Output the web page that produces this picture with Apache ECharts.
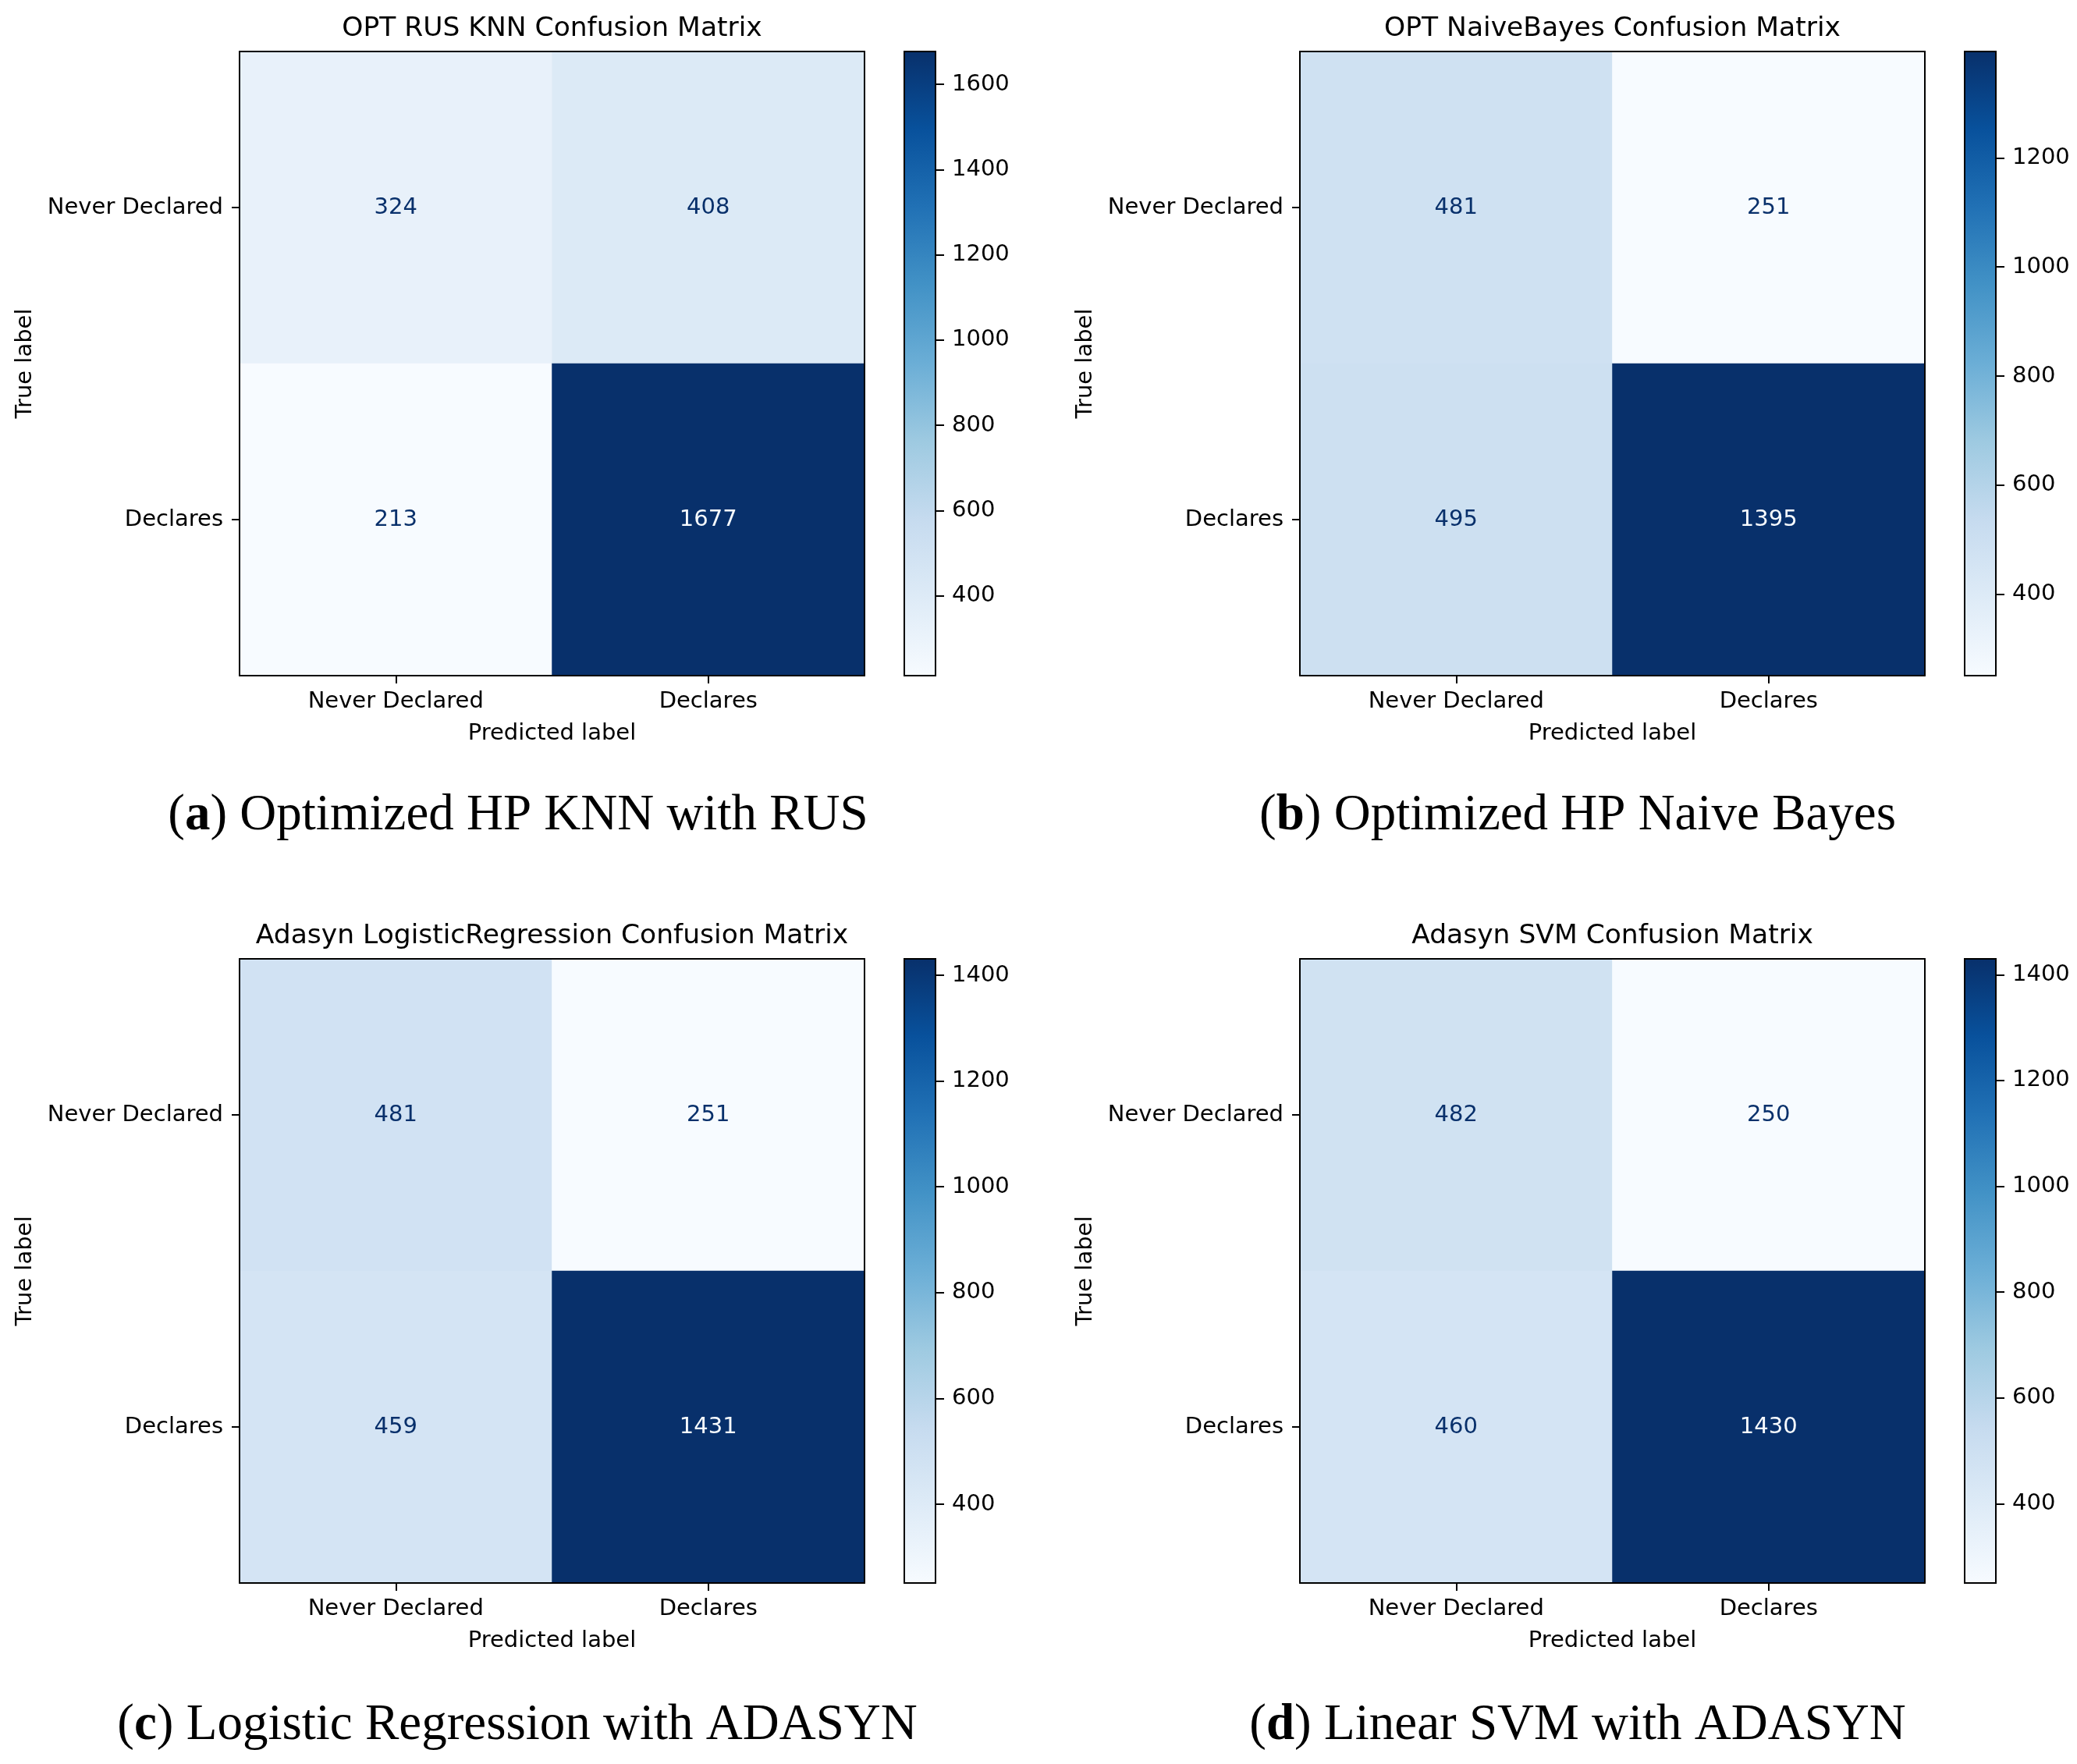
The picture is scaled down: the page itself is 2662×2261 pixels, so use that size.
<!DOCTYPE html>
<html>
<head>
<meta charset="utf-8">
<script src="https://cdn.jsdelivr.net/npm/echarts@6/dist/echarts.min.js"></script>
<style>
html,body{margin:0;padding:0;background:#fff;}
#chart{width:2662px;height:2261px;}
</style>
</head>
<body>
<div id="chart"></div>
<script>
// ---- data ----
const categories = ['Never Declared', 'Declares'];
// rows = true label, columns = predicted label
const knnRus = [[324, 408], [213, 1677]];
const naiveBayes = [[481, 251], [495, 1395]];
const logRegAdasyn = [[481, 251], [459, 1431]];
const svmAdasyn = [[482, 250], [460, 1430]];
const titles = ['OPT RUS KNN Confusion Matrix', 'OPT NaiveBayes Confusion Matrix',
  'Adasyn LogisticRegression Confusion Matrix', 'Adasyn SVM Confusion Matrix'];
const captionLetters = ['a', 'b', 'c', 'd'];
const captionTexts = ['Optimized HP KNN with RUS', 'Optimized HP Naive Bayes',
  'Logistic Regression with ADASYN', 'Linear SVM with ADASYN'];
const cbTicksA = [400, 600, 800, 1000, 1200, 1400, 1600];
const cbTicksB = [400, 600, 800, 1000, 1200];
const cbTicksC = [400, 600, 800, 1000, 1200, 1400];
const cbTicksD = [400, 600, 800, 1000, 1200, 1400];

// ---- style / layout ----
const blues = ['#f7fbff', '#deebf7', '#c6dbef', '#9ecae1', '#6baed6', '#4292c6', '#2171b5', '#08519c', '#08306b'];
const FONT = 'DejaVu Sans';
const matrices = [knnRus, naiveBayes, logRegAdasyn, svmAdasyn];
const cbTicks = [cbTicksA, cbTicksB, cbTicksC, cbTicksD];
const layout = [
  {left: 307, top: 66, capX: 664, capY: 1046},
  {left: 1666, top: 66, capX: 2022, capY: 1046},
  {left: 307, top: 1229, capX: 663, capY: 2212},
  {left: 1666, top: 1229, capX: 2022, capY: 2212}
];
const PW = 801, PH = 800, CB_OFF = 852, CB_W = 40;
const TICK_FS = 29, TITLE_FS = 34.5;
const lineBlack = {color: '#000', width: 2};

const grid = [], xAxis = [], yAxis = [], series = [], visualMap = [], title = [];
const gradient = {
  type: 'linear', x: 0, y: 0, x2: 0, y2: 1,
  colorStops: blues.slice().reverse().map((c, i) => ({offset: i / (blues.length - 1), color: c}))
};

matrices.forEach((m, p) => {
  const L = layout[p];
  const flat = m.flat();
  const vmin = Math.min(...flat), vmax = Math.max(...flat);
  const thresh = (vmin + vmax) / 2;
  const gHeat = grid.length;
  grid.push({left: L.left, top: L.top, width: PW, height: PH});
  const gCb = grid.length;
  grid.push({left: L.left + CB_OFF, top: L.top, width: CB_W, height: PH, show: true,
    backgroundColor: gradient, borderColor: '#000', borderWidth: 2});

  const xb = xAxis.length;
  xAxis.push({type: 'category', gridIndex: gHeat, data: categories, position: 'bottom', z: 5,
    axisLine: {show: true, lineStyle: lineBlack},
    axisTick: {show: true, alignWithLabel: true, length: 10, lineStyle: lineBlack},
    axisLabel: {show: true, interval: 0, fontSize: TICK_FS, lineHeight: TICK_FS, color: '#000', margin: 19, fontFamily: FONT},
    name: 'Predicted label', nameLocation: 'middle', nameGap: 60,
    nameTextStyle: {fontSize: TICK_FS, lineHeight: TICK_FS, color: '#000', fontFamily: FONT},
    splitLine: {show: false}});
  xAxis.push({type: 'category', gridIndex: gHeat, data: categories, position: 'top', z: 5,
    axisLine: {show: true, lineStyle: lineBlack}, axisTick: {show: false}, axisLabel: {show: false},
    name: titles[p], nameLocation: 'middle', nameGap: 11,
    nameTextStyle: {fontSize: TITLE_FS, lineHeight: 35, color: '#000', fontFamily: FONT},
    splitLine: {show: false}});
  xAxis.push({type: 'value', gridIndex: gCb, show: false, min: 0, max: 1});

  const yl = yAxis.length;
  yAxis.push({type: 'category', gridIndex: gHeat, data: categories, position: 'left', inverse: true, z: 5,
    axisLine: {show: true, lineStyle: lineBlack},
    axisTick: {show: true, alignWithLabel: true, length: 10, lineStyle: lineBlack},
    axisLabel: {show: true, interval: 0, fontSize: TICK_FS, color: '#000', margin: 21, fontFamily: FONT},
    name: 'True label', nameLocation: 'middle', nameGap: 260,
    nameTextStyle: {fontSize: TICK_FS, lineHeight: TICK_FS, color: '#000', fontFamily: FONT},
    splitLine: {show: false}});
  yAxis.push({type: 'category', gridIndex: gHeat, data: categories, position: 'right', inverse: true, z: 5,
    axisLine: {show: true, lineStyle: lineBlack}, axisTick: {show: false}, axisLabel: {show: false},
    splitLine: {show: false}});
  yAxis.push({type: 'value', gridIndex: gCb, position: 'right', min: vmin, max: vmax, z: 5,
    axisLine: {show: false, onZero: false},
    axisTick: {show: true, length: 11, customValues: cbTicks[p], lineStyle: lineBlack},
    axisLabel: {show: true, customValues: cbTicks[p], fontSize: TICK_FS, color: '#000', margin: 21, fontFamily: FONT,
      formatter: (v) => String(v)},
    splitLine: {show: false}});

  const data = [];
  m.forEach((row, r) => row.forEach((v, c) => {
    data.push({value: [c, r, v], label: {color: v > thresh ? blues[0] : blues[8]}});
  }));
  const sIdx = series.length;
  series.push({type: 'heatmap', xAxisIndex: xb, yAxisIndex: yl, data: data,
    itemStyle: {borderWidth: 0},
    label: {show: true, fontSize: TICK_FS, fontFamily: FONT, formatter: (pp) => String(pp.value[2])},
    emphasis: {disabled: true}});
  series.push({type: 'scatter', xAxisIndex: xb + 2, yAxisIndex: yl + 2, data: []});
  visualMap.push({type: 'continuous', show: false, seriesIndex: sIdx, dimension: 2,
    min: vmin, max: vmax, inRange: {color: blues}});

  title.push({text: '({b|' + captionLetters[p] + '}) ' + captionTexts[p], left: L.capX, top: L.capY - 36,
    textAlign: 'center', padding: 0,
    textStyle: {fontFamily: 'Liberation Serif', fontSize: 65, fontWeight: 'normal', color: '#000', lineHeight: 72,
      rich: {b: {fontFamily: 'Liberation Serif', fontSize: 65, fontWeight: 'bold', color: '#000', lineHeight: 72}}}});
});

const chart = echarts.init(document.getElementById('chart'), null, {renderer: 'canvas'});
chart.setOption({
  animation: false,
  backgroundColor: '#fff',
  textStyle: {fontFamily: FONT},
  title: title,
  grid: grid,
  xAxis: xAxis,
  yAxis: yAxis,
  visualMap: visualMap,
  series: series
});
</script>
</body>
</html>
